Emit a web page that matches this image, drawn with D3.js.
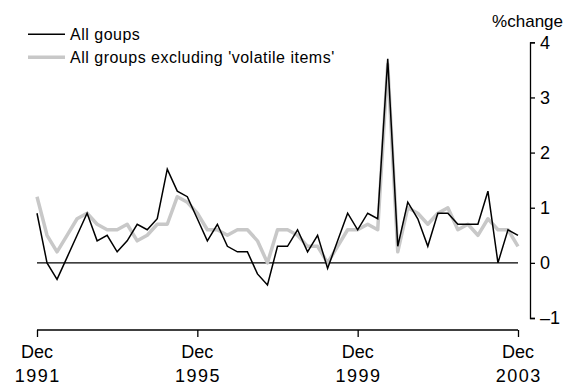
<!DOCTYPE html>
<html><head><meta charset="utf-8">
<script src="https://cdn.jsdelivr.net/npm/d3@7"></script>
<style>
html,body{margin:0;padding:0;background:#fff;}
svg{display:block;font-family:"Liberation Sans",Arial,sans-serif;}
</style></head>
<body><svg id="c" width="567" height="385"></svg>
<script>
// Quarterly % change, Dec 1991 .. Dec 2003 (49 quarters)
const allGroups = [0.9,0,-0.3,0.1,0.5,0.9,0.4,0.5,0.2,0.4,0.7,0.6,0.8,1.7,1.3,1.2,0.8,0.4,0.7,0.3,0.2,0.2,-0.2,-0.4,0.3,0.3,0.6,0.2,0.5,-0.1,0.4,0.9,0.6,0.9,0.8,3.7,0.3,1.1,0.8,0.3,0.9,0.9,0.7,0.7,0.7,1.3,0,0.6,0.5];
const exVolatile = [1.2,0.5,0.2,0.5,0.8,0.9,0.7,0.6,0.6,0.7,0.4,0.5,0.7,0.7,1.2,1.1,0.9,0.6,0.6,0.5,0.6,0.6,0.4,0.0,0.6,0.6,0.5,0.3,0.3,0.0,0.3,0.6,0.6,0.7,0.6,3.6,0.2,1.0,0.9,0.7,0.9,1.0,0.6,0.7,0.5,0.8,0.6,0.6,0.3];
const xTickIndex = [0,16,32,48];
const xTickLabels = [["Dec","1991"],["Dec","1995"],["Dec","1999"],["Dec","2003"]];
const yTicks = [-1,0,1,2,3,4];
const seriesNames = ["All goups","All groups excluding 'volatile items'"];
const yUnit = "%change";

const svg = d3.select("#c");
const x = d3.scaleLinear().domain([0, allGroups.length-1]).range([37, 518]);
const y = d3.scaleLinear().domain([-1, 4]).range([318, 42.3]);

// zero line
svg.append("line").attr("x1", x(0)).attr("x2", x(48)).attr("y1", y(0)).attr("y2", y(0))
  .attr("stroke", "#000").attr("stroke-width", 1.3);

const line = d3.line().x((d,i)=>x(i)).y(d=>y(d));
svg.append("path").datum(exVolatile).attr("d", line).attr("fill","none")
  .attr("stroke","#c8c8c8").attr("stroke-width",3.5).attr("stroke-linejoin","round");
svg.append("path").datum(allGroups).attr("d", line).attr("fill","none")
  .attr("stroke","#000").attr("stroke-width",1.5).attr("stroke-linejoin","miter");

// right y axis
const yAxis = d3.axisRight(y).tickValues(yTicks).tickSize(5).tickSizeOuter(5)
  .tickFormat(d => d < 0 ? "\u2013" + Math.abs(d) : d);
const ga = svg.append("g").attr("transform", "translate(530,0)").call(yAxis);
ga.select(".domain").attr("stroke-width", 1.3);
ga.selectAll(".tick line").attr("stroke-width", 1.3);
ga.selectAll(".tick text").attr("x", 10).attr("font-size", 18).attr("fill","#000")
  .attr("font-family","Liberation Sans, Arial, sans-serif");

svg.append("text").attr("x", 563).attr("y", 27).attr("text-anchor","end")
  .attr("font-size", 17).text(yUnit);

// bottom x axis
const xAxis = d3.axisBottom(x).tickValues(xTickIndex).tickSize(7).tickSizeOuter(0).tickFormat("");
const gx = svg.append("g").attr("transform", "translate(0,330)").call(xAxis);
gx.select(".domain").attr("stroke-width", 1.3).attr("d", `M${x(0)},0H${x(48)}`);
gx.selectAll(".tick line").attr("stroke-width", 1.3);
xTickIndex.forEach((d,k) => {
  svg.append("text").attr("text-anchor","middle").attr("font-size",18).attr("fill","#000")
    .attr("x", x(d)).attr("y", 357.5).text(xTickLabels[k][0]);
  svg.append("text").attr("text-anchor","middle").attr("font-size",18).attr("fill","#000")
    .attr("letter-spacing", 1.5)
    .attr("x", x(d) + 0.75).attr("y", 381.5).text(xTickLabels[k][1]);
});

// legend
const leg = [{name: seriesNames[0], c:"#000", w:1.5, y:34.3},
             {name: seriesNames[1], c:"#c8c8c8", w:3.5, y:57.3}];
leg.forEach(l => {
  svg.append("line").attr("x1",28).attr("x2",65).attr("y1",l.y).attr("y2",l.y)
    .attr("stroke",l.c).attr("stroke-width",l.w);
  svg.append("text").attr("x",70).attr("y",l.y+6).attr("font-size",16)
    .attr("letter-spacing",0.5).attr("fill","#000").text(l.name);
});
</script></body></html>
